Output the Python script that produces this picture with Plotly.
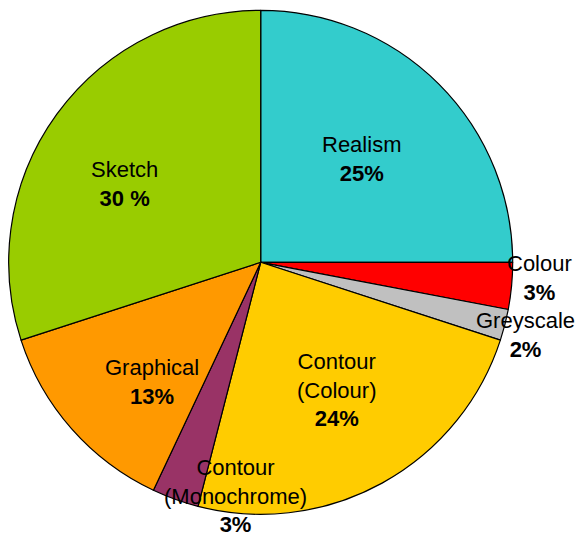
import plotly.graph_objects as go

# Slice data, clockwise from 12 o'clock
labels = ["Realism", "Colour", "Greyscale", "Contour<br>(Colour)",
          "Contour<br>(Monochrome)", "Graphical", "Sketch"]
values = [25, 3, 2, 24, 3, 13, 30]
colors = ["#33CCCC", "#FF0000", "#C0C0C0", "#FFCC00",
          "#993366", "#FF9900", "#99CC00"]
pct_sep = ["", "", "", "", "", "", " "]

W, H = 579, 537

# Label centres in pixels (x, y of the text block centre)
label_pos = [(361, 159), (539, 278), (525, 335), (336, 390),
             (235, 496), (152, 382), (124, 184)]

fig = go.Figure(go.Pie(
    labels=[l.replace("<br>", " ") for l in labels],
    values=values,
    marker=dict(colors=colors, line=dict(color="black", width=1.2)),
    sort=False,
    direction="clockwise",
    rotation=0,
    textinfo="none",
    hoverinfo="label+percent",
    showlegend=False,
    domain=dict(x=[(260.7 - 252) / W, (260.7 + 252) / W],
                y=[(H - 514.3) / H, (H - 10.3) / H]),
))

for lab, v, sep, (px, py) in zip(labels, values, pct_sep, label_pos):
    fig.add_annotation(
        x=px / W, y=1 - py / H, xref="paper", yref="paper",
        xanchor="center", yanchor="middle", showarrow=False,
        text=f"{lab}<br><b>{v}{sep}%</b>",
        font=dict(family="Liberation Sans, Arial, sans-serif", size=22, color="black"),
        align="center",
        borderpad=0,
    )

fig.update_layout(
    width=W, height=H,
    margin=dict(l=0, r=0, t=0, b=0),
    paper_bgcolor="white", plot_bgcolor="white",
)

fig.write_html("out.html")
